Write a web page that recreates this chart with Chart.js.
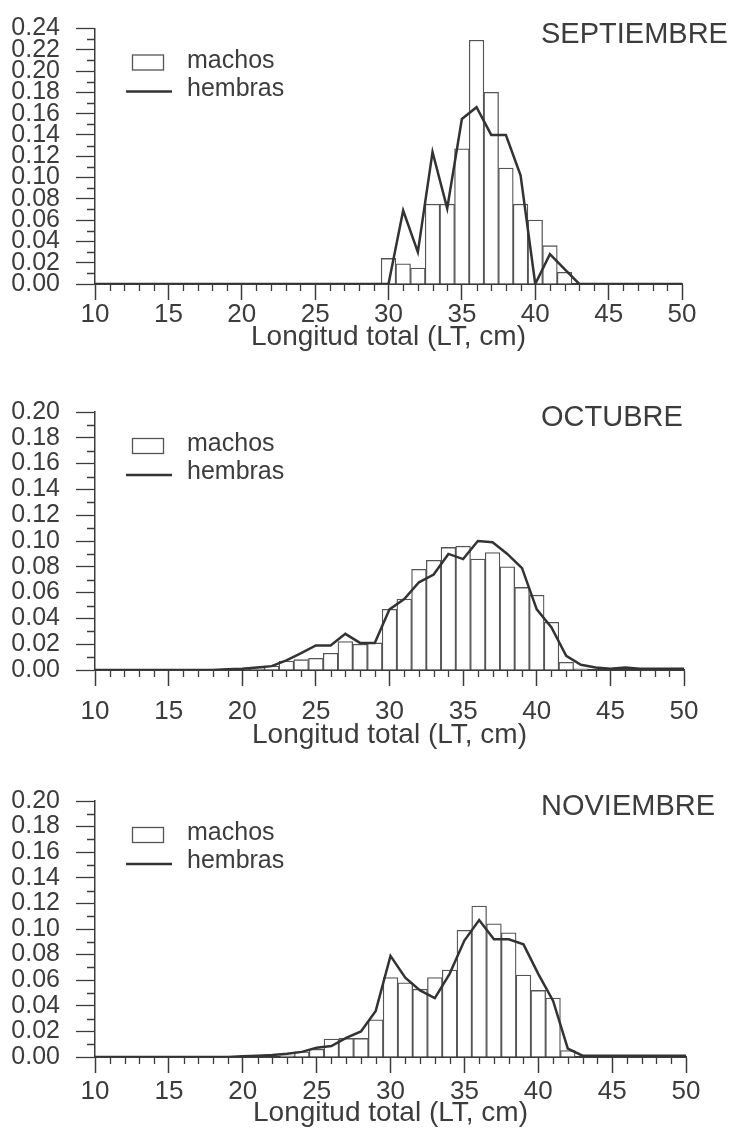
<!DOCTYPE html>
<html>
<head>
<meta charset="utf-8">
<script src="https://cdn.jsdelivr.net/npm/chart.js@4.4.1/dist/chart.umd.min.js"></script>
<style>
    body { margin: 0; background: #fff; }
    #wrap { position: relative; width: 733px; height: 1128px; overflow: hidden; }
    #wrap canvas { position: absolute; left: 0; }
</style>
</head>
<body>
<div id="wrap">
    <canvas id="chartSep" width="733" height="372" style="top:0px"></canvas>
    <canvas id="chartOct" width="733" height="372" style="top:380px"></canvas>
    <canvas id="chartNov" width="733" height="368" style="top:760px"></canvas>
</div>
<script>
/** --------------------DATA-------------------- */

const lengths = [10, 11, 12, 13, 14, 15, 16, 17, 18, 19, 20, 21, 22, 23, 24, 25, 26, 27, 28, 29,
    30, 31, 32, 33, 34, 35, 36, 37, 38, 39, 40, 41, 42, 43, 44, 45, 46, 47, 48, 49, 50];

const sepMachos = [0, 0, 0, 0, 0, 0, 0, 0, 0, 0, 0, 0, 0, 0, 0, 0, 0, 0, 0, 0,
    0.024, 0.019, 0.015, 0.075, 0.075, 0.127, 0.229, 0.180, 0.109, 0.075, 0.060, 0.036, 0.011,
    0, 0, 0, 0, 0, 0, 0, 0];
const sepHembras = [0, 0, 0, 0, 0, 0, 0, 0, 0, 0, 0, 0, 0, 0, 0, 0, 0, 0, 0, 0,
    0, 0.069, 0.030, 0.124, 0.071, 0.155, 0.166, 0.140, 0.140, 0.102, 0, 0.028, 0.014,
    0, 0, 0, 0, 0, 0, 0, 0];

const octMachos = [0, 0, 0, 0, 0, 0, 0, 0, 0, 0,
    0.001, 0.001, 0.003, 0.007, 0.008, 0.009, 0.013, 0.022, 0.020, 0.021,
    0.047, 0.055, 0.078, 0.085, 0.095, 0.096, 0.086, 0.091, 0.080, 0.064, 0.058, 0.037, 0.006,
    0.001, 0, 0, 0, 0, 0, 0, 0];
const octHembras = [0, 0, 0, 0, 0, 0, 0, 0, 0, 0.0005,
    0.001, 0.002, 0.003, 0.0075, 0.013, 0.019, 0.019, 0.028, 0.021, 0.021,
    0.047, 0.055, 0.068, 0.074, 0.090, 0.086, 0.100, 0.099, 0.090, 0.079, 0.047, 0.033, 0.011,
    0.004, 0.002, 0.001, 0.002, 0.001, 0.001, 0.001, 0.001];

const novMachos = [0, 0, 0, 0, 0, 0, 0, 0, 0, 0, 0, 0, 0,
    0.001, 0.004, 0.006, 0.014, 0.0145, 0.0145, 0.029,
    0.062, 0.058, 0.053, 0.062, 0.068, 0.099, 0.118, 0.104, 0.097, 0.064, 0.052, 0.046, 0.005,
    0, 0, 0, 0, 0, 0, 0, 0];
const novHembras = [0, 0, 0, 0, 0, 0, 0, 0, 0, 0,
    0.0005, 0.001, 0.0015, 0.0026, 0.004, 0.0073, 0.0086, 0.015, 0.020, 0.036,
    0.079, 0.062, 0.052, 0.046, 0.065, 0.091, 0.107, 0.092, 0.092, 0.088, 0.065, 0.044, 0.0065,
    0.001, 0.001, 0.001, 0.001, 0.001, 0.001, 0.001, 0.001];

const seriesNames = ['machos', 'hembras'];
const axisTitle = 'Longitud total (LT, cm)';

/** --------------------STYLE-------------------- */

const ink = '#3c3c3c';
const fontFamily = "'Liberation Sans', Arial, Helvetica, sans-serif";
Chart.defaults.font.family = fontFamily;
Chart.defaults.color = ink;

/** draws minor ticks, the inside legend and the month label */
const panelDecor = {
    id: 'panelDecor',
    afterDraw(chart, args, opts) {
        const ctx = chart.ctx;
        const {left, top, bottom} = chart.chartArea;
        const xs = chart.scales.x;
        const ys = chart.scales.y;

        ctx.save();
        ctx.strokeStyle = ink;
        ctx.lineWidth = 1.3;
        ctx.beginPath();
        for (let v = xs.min; v <= xs.max; v++) {
            if (v % 5 === 0) continue;
            let px = Math.round(xs.getPixelForValue(v)) + 0.5;
            ctx.moveTo(px, bottom);
            ctx.lineTo(px, bottom + 7);
        }
        let steps = Math.round(ys.max / 0.01);
        for (let k = 1; k < steps; k += 2) {
            let py = Math.round(ys.getPixelForValue(k * 0.01)) + 0.5;
            ctx.moveTo(left - 8, py);
            ctx.lineTo(left, py);
        }
        ctx.stroke();

        // legend inside the plot
        let bars = chart.data.datasets[0];
        let line = chart.data.datasets[1];
        ctx.strokeStyle = bars.borderColor;
        ctx.lineWidth = 1.3;
        ctx.strokeRect(left + 37.5, top + 26.5, 31, 15);
        ctx.strokeStyle = line.borderColor;
        ctx.lineWidth = 2.5;
        ctx.beginPath();
        ctx.moveTo(left + 31, top + 63);
        ctx.lineTo(left + 77, top + 63);
        ctx.stroke();

        ctx.fillStyle = ink;
        ctx.textAlign = 'left';
        ctx.textBaseline = 'alphabetic';
        ctx.font = '25px ' + fontFamily;
        ctx.fillText(bars.label, left + 92, top + 39);
        ctx.fillText(line.label, left + 92, top + 67);

        ctx.font = '29px ' + fontFamily;
        ctx.fillText(opts.month, 541, top + 14);
        ctx.restore();
    }
};

function drawPanel(id, panel) {
    const ctx = document.getElementById(id).getContext('2d');
    const canvasHeight = ctx.canvas.height;

    return new Chart(ctx, {
        type: 'bar',
        data: {
            labels: lengths,
            datasets: [
                {
                    type: 'bar',
                    label: seriesNames[0],
                    data: panel.machos,
                    backgroundColor: '#ffffff',
                    borderColor: '#555555',
                    borderWidth: 1.3,
                    borderSkipped: 'start',
                    barPercentage: 1,
                    categoryPercentage: 1,
                    order: 2
                },
                {
                    type: 'line',
                    label: seriesNames[1],
                    data: panel.hembras,
                    borderColor: '#333333',
                    borderWidth: 2.5,
                    pointRadius: 0,
                    tension: 0,
                    fill: false,
                    order: 1
                }
            ]
        },
        options: {
            responsive: false,
            animation: false,
            events: [],
            layout: {
                padding: {left: 0, top: panel.areaTop, right: 733 - panel.areaRight, bottom: 0}
            },
            scales: {
                x: {
                    type: 'linear',
                    min: 10,
                    max: 50,
                    offset: false,
                    afterFit: function (scale) {
                        scale.height = canvasHeight - panel.areaBottom;
                    },
                    grid: {
                        offset: false,
                        drawOnChartArea: false,
                        tickLength: 16,
                        tickWidth: 1.5,
                        tickColor: ink
                    },
                    border: {display: true, color: ink, width: 2},
                    ticks: {
                        stepSize: 5,
                        padding: panel.xLabelPad,
                        maxRotation: 0,
                        color: ink,
                        font: {size: 26},
                        callback: v => v
                    },
                    title: {
                        display: true,
                        text: axisTitle,
                        color: ink,
                        font: {size: 28, lineHeight: 1},
                        padding: {top: 0, bottom: panel.titlePad}
                    }
                },
                y: {
                    min: 0,
                    max: panel.yMax,
                    afterFit: function (scale) {
                        scale.width = 95;
                    },
                    grid: {
                        drawOnChartArea: false,
                        tickLength: 19,
                        tickWidth: 1.3,
                        tickColor: ink
                    },
                    border: {display: true, color: ink, width: 1.5},
                    ticks: {
                        stepSize: 0.02,
                        autoSkip: false,
                        padding: 16,
                        color: ink,
                        font: {size: 25, lineHeight: 1},
                        callback: v => Number(v).toFixed(2)
                    }
                }
            },
            plugins: {
                legend: {display: false},
                tooltip: {enabled: false},
                panelDecor: {month: panel.month}
            }
        },
        plugins: [panelDecor]
    });
}

drawPanel('chartSep', {
    machos: sepMachos, hembras: sepHembras, month: 'SEPTIEMBRE', yMax: 0.24,
    areaTop: 28, areaBottom: 284, areaRight: 682, xLabelPad: -1, titlePad: 21
});
drawPanel('chartOct', {
    machos: octMachos, hembras: octHembras, month: 'OCTUBRE', yMax: 0.20,
    areaTop: 32, areaBottom: 290, areaRight: 684, xLabelPad: 10, titlePad: 3
});
drawPanel('chartNov', {
    machos: novMachos, hembras: novHembras, month: 'NOVIEMBRE', yMax: 0.20,
    areaTop: 41, areaBottom: 297, areaRight: 686, xLabelPad: 3, titlePad: 1
});
</script>
</body>
</html>
